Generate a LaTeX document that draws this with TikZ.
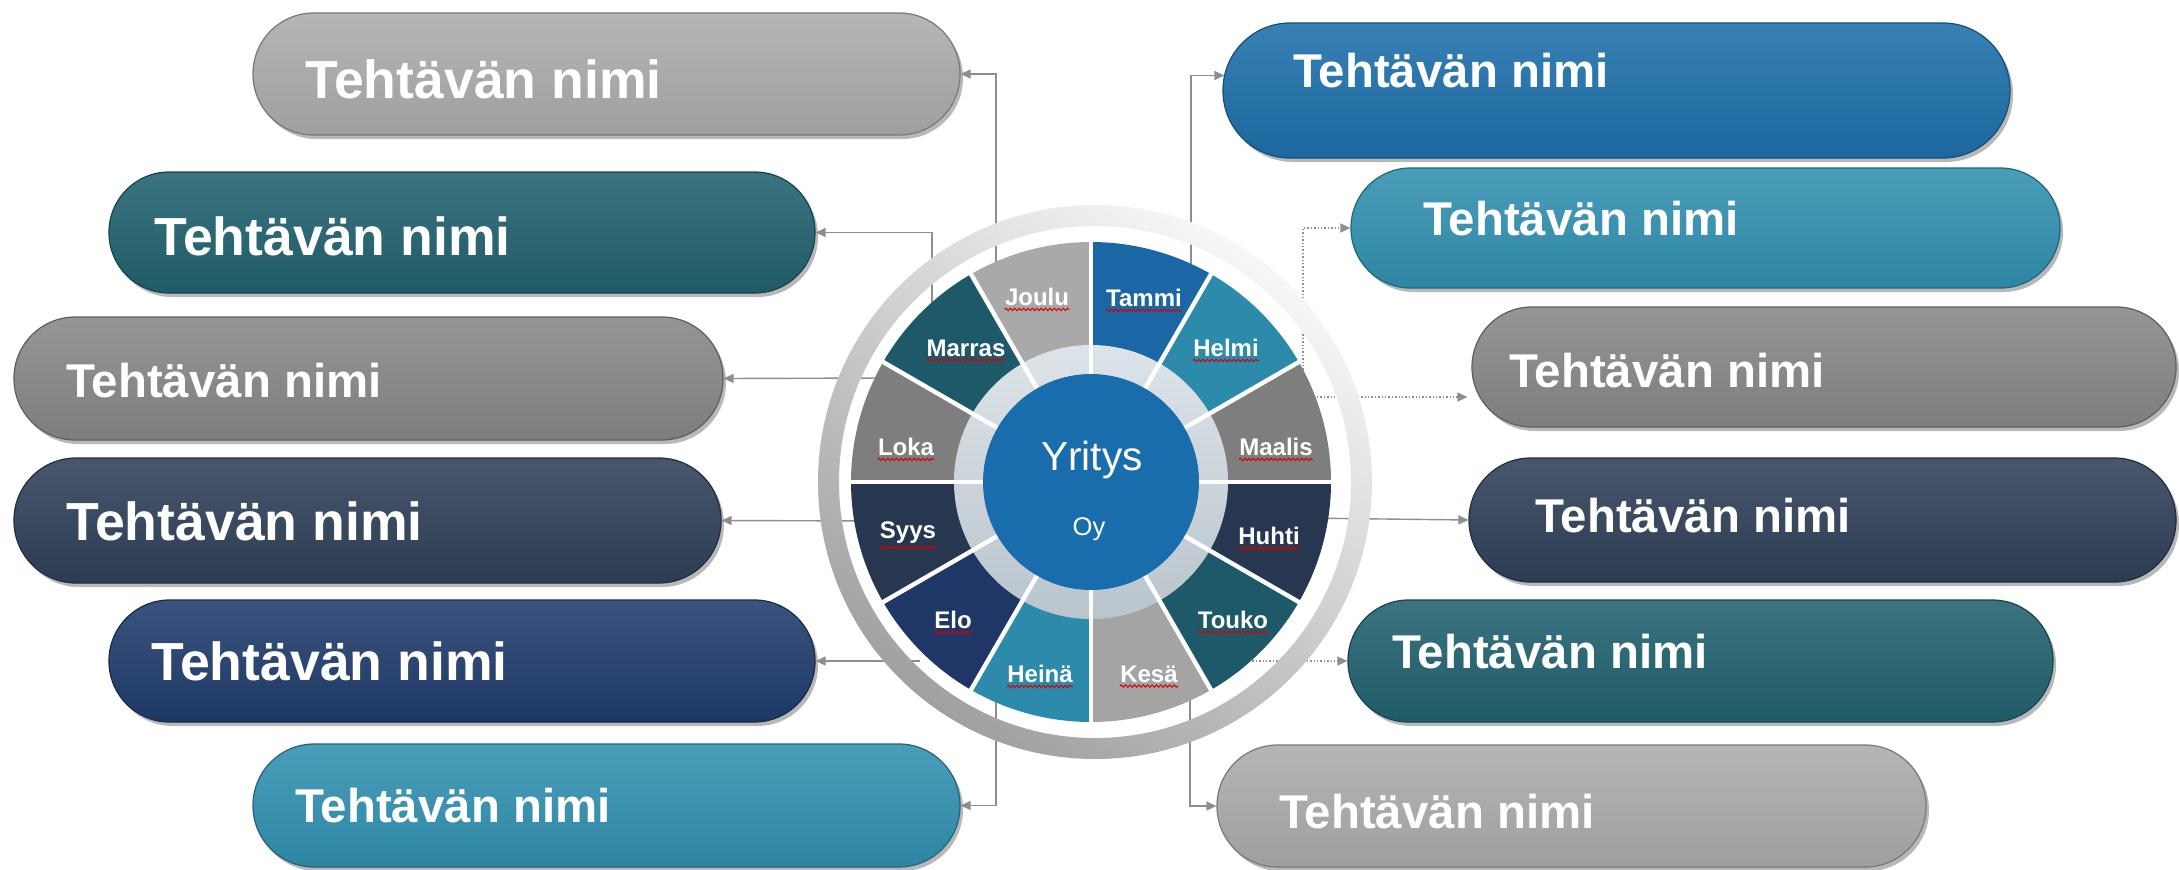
\documentclass[tikz,border=0pt]{standalone}
\usepackage{fontspec}
\setmainfont{Liberation Sans}
\usetikzlibrary{arrows.meta,calc,shadows,decorations.pathmorphing}
\definecolor{cLight}{HTML}{ABABAB}
\definecolor{cTeal}{HTML}{21616F}
\definecolor{cGray}{HTML}{878787}
\definecolor{cSlate}{HTML}{2F4058}
\definecolor{cNavy}{HTML}{203C6C}
\definecolor{cTealBlue}{HTML}{3190B0}
\definecolor{cBlue}{HTML}{1D6FAA}
\definecolor{wTammi}{HTML}{1B67A6}
\definecolor{wHelmi}{HTML}{2C8AAA}
\definecolor{wMaalis}{HTML}{7E7E7E}
\definecolor{wHuhti}{HTML}{273750}
\definecolor{wTouko}{HTML}{1D5968}
\definecolor{wKesa}{HTML}{A4A4A4}
\definecolor{wHeina}{HTML}{2C8AAA}
\definecolor{wElo}{HTML}{1F3767}
\definecolor{wSyys}{HTML}{273750}
\definecolor{wLoka}{HTML}{7E7E7E}
\definecolor{wMarras}{HTML}{1D5968}
\definecolor{wJoulu}{HTML}{A9A9A9}
\definecolor{hubblue}{HTML}{1A6DAC}
\definecolor{ringhi}{HTML}{F7F7F7}
\definecolor{ringlo}{HTML}{A0A0A0}
\definecolor{ringtop}{HTML}{DDE4E9}
\definecolor{ringbot}{HTML}{BAC4CC}
\definecolor{connc}{HTML}{8E8E8E}
\newcommand\tbox[6]{%
  \pgfmathsetmacro\bw{(#4-#2)*0.5}%
  \pgfmathsetmacro\bh{(#5-#3)*0.5}%
  \pgfmathsetmacro\br{(#5-#3)*0.25-0.2}%
  \node[taskbox, minimum width=\bw pt, minimum height=\bh pt, rounded corners=\br pt,
        top color=#6!88!white, middle color=#6, bottom color=#6!93!black, draw=#6!70!black]
        (#1) at ({(#2+#4)/2},{(#3+#5)/2}) {};%
}
\begin{document}
\begin{tikzpicture}[x=0.5pt,y=-0.5pt,
  taskbox/.style={shape=rectangle, inner sep=0pt, line width=0.6pt,
     general shadow={fill=black, opacity=0.28, shadow xshift=1.5pt, shadow yshift=-2pt}},
  bigtxt/.style={text=white, font=\bfseries\fontsize{26.8}{30}\selectfont, inner sep=0pt, anchor=base west},
  smalltxt/.style={text=white, font=\bfseries\fontsize{23.7}{27}\selectfont, inner sep=0pt, anchor=base west},
  conn/.style={draw=connc, line width=0.7pt, -{Triangle[length=5pt,width=4.5pt]}},
  dconn/.style={conn, densely dotted},
  mlab/.style={text=white, font=\bfseries\fontsize{12}{14}\selectfont, inner sep=0pt},
  wavy/.style={draw=red!85!black, line width=0.5pt, decorate,
     decoration={snake, amplitude=0.6pt, segment length=2.2pt}}
]
\useasboundingbox (0,0) rectangle (2179,869);
\fill[white] (0,0) rectangle (2179,869);

% task boxes
\tbox{L1}{253}{13}{960}{135}{cLight}
\tbox{L2}{109}{172}{815}{293}{cTeal}
\tbox{L3}{14}{317}{723}{440}{cGray}
\tbox{L4}{14}{458}{721}{583}{cSlate}
\tbox{L5}{109}{600}{815}{722}{cNavy}
\tbox{L6}{253}{744}{960}{867}{cTealBlue}
\tbox{R1}{1223}{23}{2010}{158}{cBlue}
\tbox{R2}{1351}{168}{2060}{288}{cTealBlue}
\tbox{R3}{1472}{307}{2176}{427}{cGray}
\tbox{R4}{1469}{458}{2176}{582}{cSlate}
\tbox{R5}{1348}{600}{2053}{722}{cTeal}
\tbox{R6}{1217}{745}{1926}{867}{cLight}

\node[bigtxt]   (tL1) at (305,98)  {Tehtävän nimi};
\node[bigtxt]   (tL2) at (154,255) {Tehtävän nimi};
\node[smalltxt] (tL3) at (66,397)  {Tehtävän nimi};
\node[bigtxt]   (tL4) at (66,540)  {Tehtävän nimi};
\node[bigtxt]   (tL5) at (151,680) {Tehtävän nimi};
\node[smalltxt] (tL6) at (295,822) {Tehtävän nimi};
\node[smalltxt] (tR1) at (1293,87)  {Tehtävän nimi};
\node[smalltxt] (tR2) at (1423,235) {Tehtävän nimi};
\node[smalltxt] (tR3) at (1509,387) {Tehtävän nimi};
\node[smalltxt] (tR4) at (1535,532) {Tehtävän nimi};
\node[smalltxt] (tR5) at (1392,668) {Tehtävän nimi};
\node[smalltxt] (tR6) at (1279,828) {Tehtävän nimi};

% connector start points (inside the wheel)
\coordinate (sJoulu)  at (996,300);
\coordinate (sMarras) at (932,320);
\coordinate (sLoka)   at (885,378);
\coordinate (sSyys)   at (885,521);
\coordinate (sElo)    at (920,661);
\coordinate (sHeina)  at (996,690);
\coordinate (sTammi)  at (1191,300);
\coordinate (sHelmi)  at (1303,380);
\coordinate (sMaalis) at (1300,397);
\coordinate (sHuhti)  at (1300,518);
\coordinate (sTouko)  at (1220,666);
\coordinate (sKesa)   at (1190,700);

\draw[conn]  (sJoulu)  |- (L1.east);
\draw[conn]  (sMarras) |- (L2.east);
\draw[conn]  (sLoka)   -- (L3.east);
\draw[conn]  (sSyys)   -- (L4.east);
\draw[conn]  (sElo)    -- (L5.east);
\draw[conn]  (sHeina)  |- (L6.east);
\draw[conn]  (sTammi)  |- ($(R1.west)+(2,-15)$);
\draw[dconn] (sHelmi)  |- (R2.west);
\draw[dconn] (sMaalis) -- ($(R3.west)+(-4,30)$);
\draw[conn]  (sHuhti)  -- (R4.west);
\draw[dconn] (sTouko)  |- (R5.west);
\draw[conn]  (sKesa)   |- (R6.west);

% wheel
\begin{scope}[shift={(1091,482)}, x=0.5pt, y=0.5pt]
  \shade[even odd rule, top color=ringhi, bottom color=ringlo, shading angle=-35]
    (4,0) circle[radius=277] (4,0) circle[radius=256];
  \foreach \s/\c in {90/wTammi, 60/wHelmi, 30/wMaalis, 0/wHuhti, -30/wTouko, -60/wKesa,
                     -90/wHeina, -120/wElo, -150/wSyys, -180/wLoka, -210/wMarras, -240/wJoulu}
    \fill[\c] (0,0) -- (\s:240) arc[start angle=\s, end angle=\s-30, radius=240] -- cycle;
  \shade[top color=ringtop, bottom color=ringbot] (0,0) circle[radius=137];
  \foreach \a in {0,30,...,330}
    \draw[white, line width=2.2pt] (0,0) -- (\a:241);
  \node[circle, fill=hubblue, minimum size=108pt, inner sep=0pt] (hub) at (0,0) {};
  \node[text=white, font=\fontsize{20.3}{24}\selectfont, inner sep=0pt] (yr) at (1,22) {Yritys};
  \node[text=white, font=\fontsize{12.8}{15}\selectfont, inner sep=0pt] (oy) at (-2,-47) {Oy};

  \node[mlab] (mTammi)  at (53,184)   {Tammi};
  \node[mlab] (mHelmi)  at (135,134)  {Helmi};
  \node[mlab] (mMaalis) at (185,35)   {Maalis};
  \node[mlab] (mHuhti)  at (178,-54)  {Huhti};
  \node[mlab] (mTouko)  at (142,-138) {Touko};
  \node[mlab] (mKesa)   at (58,-192)  {Kesä};
  \node[mlab] (mHeina)  at (-51,-192) {Heinä};
  \node[mlab] (mElo)    at (-138,-138){Elo};
  \node[mlab] (mSyys)   at (-183,-51) {Syys};
  \node[mlab] (mLoka)   at (-185,35)  {Loka};
  \node[mlab] (mMarras) at (-125,134) {Marras};
  \node[mlab] (mJoulu)  at (-54,185)  {Joulu};
  \foreach \n in {mTammi,mHelmi,mMaalis,mHuhti,mTouko,mKesa,mHeina,mElo,mSyys,mLoka,mMarras,mJoulu}
    \draw[wavy] ([yshift=-1.6pt]\n.south west) -- ([yshift=-1.6pt]\n.south east);
\end{scope}
\end{tikzpicture}
\end{document}
